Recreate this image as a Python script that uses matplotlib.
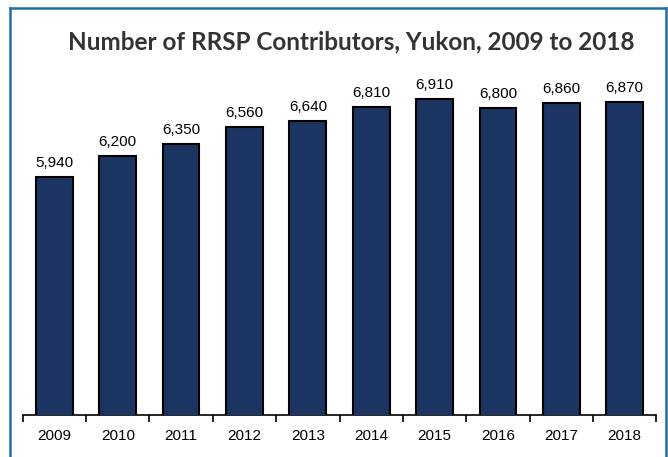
import matplotlib
matplotlib.use("Agg")
import matplotlib.pyplot as plt
from matplotlib.lines import Line2D
import numpy as np

years = ["2009", "2010", "2011", "2012", "2013", "2014", "2015", "2016", "2017", "2018"]
contributors = [5940, 6200, 6350, 6560, 6640, 6810, 6910, 6800, 6860, 6870]
title = "Number of RRSP Contributors, Yukon, 2009 to 2018"

fig = plt.figure(figsize=(6.68, 4.57), dpi=100)
ax = fig.add_axes([0.034, 0.0919, 0.9485, 0.884])

x = np.arange(len(years))
ax.bar(x, contributors, width=0.58, color="#1c3461", edgecolor="black", linewidth=1.5, zorder=3)
for xi, v in zip(x, contributors):
    ax.text(xi, v + 90, f"{v:,}", ha="center", va="bottom", fontsize=11,
            family="Liberation Sans", color="black")

ax.set_ylim(3000, 8000)
ax.set_xlim(-0.5, len(years) - 0.5)
ax.set_yticks([])
for s in ["top", "right", "left"]:
    ax.spines[s].set_visible(False)
ax.spines["bottom"].set_linewidth(1.2)
ax.set_xticks(x)
ax.set_xticklabels(years, family="Liberation Sans", fontsize=11)
ax.tick_params(axis="x", which="major", length=0, pad=10)
ax.set_xticks(np.arange(-0.5, len(years), 1.0), minor=True)
ax.tick_params(axis="x", which="minor", length=5, width=1.2, direction="out")
ax.patch.set_visible(False)

fig.text(351 / 668, 1 - 42 / 457, title, ha="center", va="center", fontsize=17.5,
         fontweight="bold", family="Lato", color="#333333")

bc = "#1f6fa6"
W, H = 668, 457
fig.add_artist(Line2D([9.5 / W, 666 / W], [1 - 8 / H, 1 - 8 / H], color=bc, lw=1.8, transform=fig.transFigure))
fig.add_artist(Line2D([9.5 / W, 9.5 / W], [0, 1 - 8 / H], color=bc, lw=1.8, transform=fig.transFigure))
fig.add_artist(Line2D([666 / W, 666 / W], [0, 1 - 8 / H], color=bc, lw=1.8, transform=fig.transFigure))

fig.savefig("out.png", dpi=100)
